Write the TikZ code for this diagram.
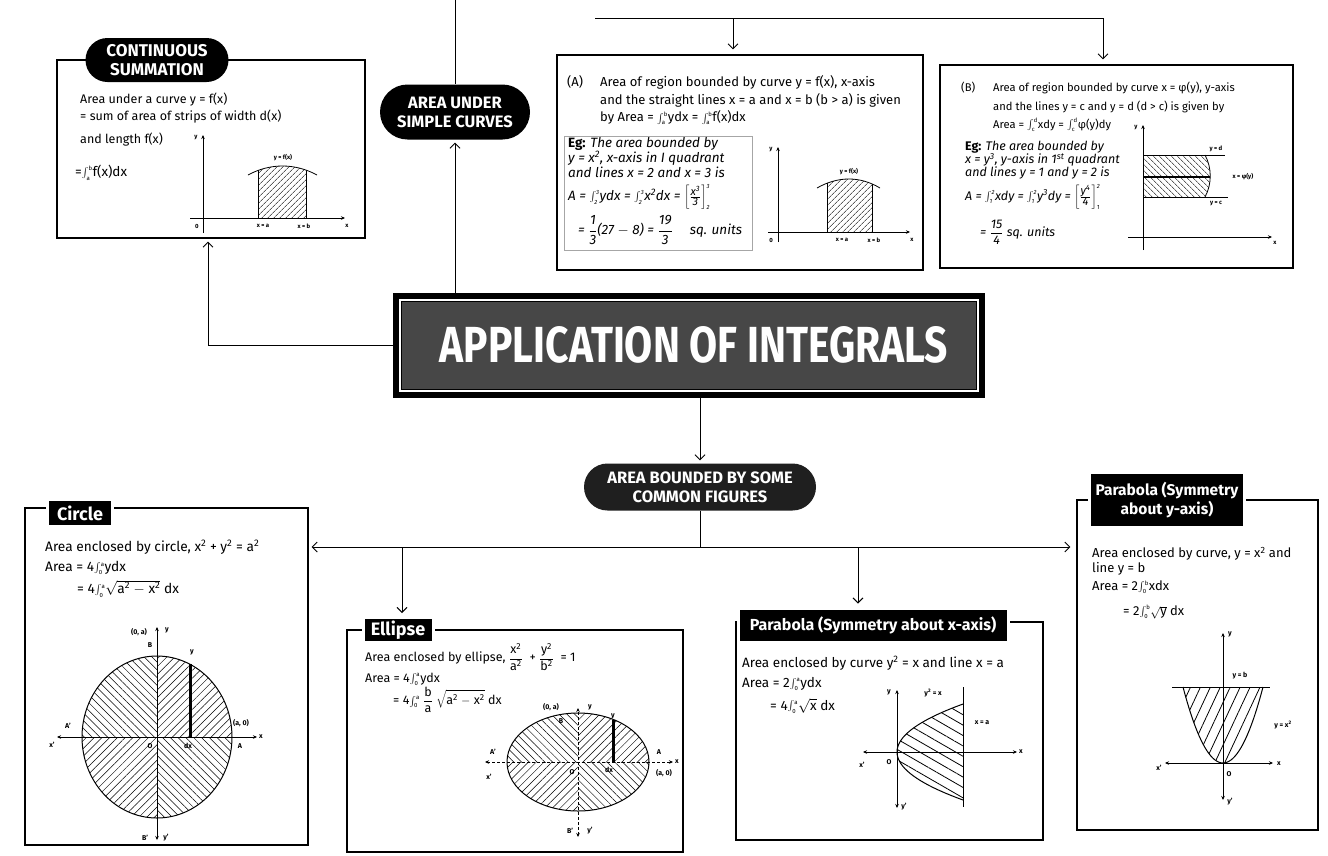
\documentclass[tikz,border=0pt]{standalone}
\usepackage{graphicx}
\usepackage{fontspec}
\setmainfont{Fira Sans}
\usetikzlibrary{arrows.meta,patterns.meta,shapes.misc,calc}
\newcommand{\ig}[2]{\ensuremath{\textstyle\int_{\hbox{\fontsize{6}{6}\selectfont #1}}^{\hbox{\fontsize{6}{6}\selectfont #2}}}}
\newcommand{\sq}[1]{\textsuperscript{#1}}
\newcommand{\mn}{\ensuremath{-}}
\newcommand{\fr}[2]{\ensuremath{\displaystyle\frac{\hbox{#1}}{\hbox{#2}}}}
\newcommand{\rt}[1]{\ensuremath{\sqrt{\hbox{#1}}}}
\newcommand{\bk}[4]{\ensuremath{\left[\frac{\hbox{\fontsize{11}{11}\selectfont #1}}{\hbox{\fontsize{11}{11}\selectfont #2}}\right]_{\hbox{\fontsize{6}{6}\selectfont #3}}^{\hbox{\fontsize{6}{6}\selectfont #4}}}}
\tikzset{
 conn/.style={line width=0.9pt},
 arr/.style={conn, -{Straight Barb[length=5pt,width=10pt,line width=0.9pt]}},
 frame/.style={draw, line width=1.2pt, inner sep=0pt, rectangle},
 pill/.style={rounded rectangle, fill=black, text=white, align=center, inner sep=1pt},
 tag/.style={rectangle, fill=black, text=white, align=center, inner sep=1pt, draw=white, line width=3pt},
 txt/.style={anchor=west, inner sep=0pt, font=\fontsize{12.5}{14}\selectfont},
 small/.style={anchor=west, inner sep=0pt, font=\fontsize{13}{14}\selectfont},
 smallb/.style={anchor=west, inner sep=0pt, font=\fontsize{11.2}{13}\selectfont},
 eg/.style={anchor=west, inner sep=0pt, font=\itshape\fontsize{13.5}{14}\selectfont},
 egb/.style={anchor=west, inner sep=0pt, font=\itshape\fontsize{12.5}{13}\selectfont},
 lab/.style={inner sep=0pt, font=\bfseries\fontsize{6}{7}\selectfont},
 labb/.style={inner sep=0pt, font=\bfseries\fontsize{7}{8}\selectfont},
 ax/.style={line width=0.8pt, -{Stealth[length=4pt,width=3.5pt]}},
 axx/.style={line width=0.8pt, {Stealth[length=4pt,width=3.5pt]}-{Stealth[length=4pt,width=3.5pt]}},
 hatchNE/.style={pattern={Lines[angle=45,distance=4pt,line width=0.5pt]}},
 hatchNW/.style={pattern={Lines[angle=-45,distance=4pt,line width=0.5pt]}},
 chNE/.style={pattern={Lines[angle=45,distance=5.5pt,line width=0.5pt]}},
 chNW/.style={pattern={Lines[angle=-45,distance=5.5pt,line width=0.5pt]}},
}
\begin{document}
\begin{tikzpicture}[x=1pt,y=-1pt]
\useasboundingbox (0,0) rectangle (1328,855);
\fill[white] (0,0) rectangle (1328,855);

% ---------- frames ----------
\node[frame, minimum width=308pt, minimum height=178pt] (cs) at (211,149) {};
\node[frame, minimum width=366pt, minimum height=215pt] (boxA) at (740,162.5) {};
\node[frame, minimum width=353pt, minimum height=203pt] (boxB) at (1116.5,166.5) {};
\node[frame, minimum width=283pt, minimum height=337pt] (circ) at (166.5,676.5) {};
\node[frame, minimum width=336pt, minimum height=222pt] (ell) at (515,741) {};
\node[frame, minimum width=307pt, minimum height=218pt] (parx) at (889.5,731) {};
\node[frame, minimum width=241pt, minimum height=330pt] (pary) at (1197.5,665) {};

% ---------- title ----------
\node[fill=black, minimum width=592pt, minimum height=105pt, inner sep=0pt] (title) at (689,345.5) {};
\fill[black!72] ($(title.south west)+(9,-9)$) rectangle ($(title.north east)+(-9,9)$);
\draw[white, line width=1.5pt] ($(title.south west)+(7,-7)$) rectangle ($(title.north east)+(-7,7)$);
\node[text=white, inner sep=0pt] (titletxt) at (694,345) {\resizebox{508pt}{36pt}{\bfseries APPLICATION OF INTEGRALS}};

% ---------- pills and tags ----------
\node[pill, minimum width=145pt, minimum height=44pt, font=\bfseries\fontsize{17}{19}\selectfont] (cspill) at (157,60) {CONTINUOUS\\SUMMATION};
\node[pill, minimum width=152pt, minimum height=55pt, font=\bfseries\fontsize{16.5}{19}\selectfont] (ausc) at (455,112) {AREA UNDER\\SIMPLE CURVES};
\node[pill, fill=black!88, minimum width=234pt, minimum height=47pt, font=\bfseries\fontsize{16.5}{19}\selectfont] (absc) at (700,487) {AREA BOUNDED BY SOME\\COMMON FIGURES};
\node[tag, minimum width=65pt, minimum height=27pt, font=\bfseries\fontsize{18}{20}\selectfont] (clab) at (80,513) {Circle};
\node[tag, minimum width=70pt, minimum height=25pt, font=\bfseries\fontsize{18}{20}\selectfont] (elab) at (398,630) {Ellipse};
\node[tag, minimum width=270pt, minimum height=34pt, font=\bfseries\fontsize{16}{18}\selectfont] (plab) at (873,625) {Parabola (Symmetry about x-axis)};
\node[tag, minimum width=155pt, minimum height=55pt, font=\bfseries\fontsize{15.5}{19}\selectfont] (qlab) at (1167,500) {Parabola (Symmetry\\about y-axis)};

% ---------- connectors ----------
\coordinate (top0) at (455,0);
\draw[conn] (top0) -- (ausc.north);
\draw[arr, shorten >=3pt] (title.north -| ausc) -- (ausc.south);
\coordinate (h1) at (595,18);
\coordinate (hA) at (733,18);
\coordinate (hB) at (1103,18);
\draw[conn] (h1) -- (hB);
\draw[arr, shorten >=5pt] (hA) -- (hA |- boxA.north);
\draw[arr, shorten >=5pt] (hB) -- (hB |- boxB.north);
\coordinate (j1) at (208,345.5);
\draw[arr, shorten >=3pt] (title.west) -- (j1) -- (j1 |- cs.south);
\draw[arr, shorten >=3pt] (title.south -| absc) -- (absc.north);
\coordinate (bus) at (700,547);
\draw[conn] (absc.south) -- (bus);
\draw[arr, shorten >=3pt] (bus) -- (circ.east |- bus);
\draw[arr, shorten >=6pt] (bus) -- (pary.west |- bus);
\coordinate (bE) at (402,547);
\draw[arr, shorten >=3pt] (bE) -- (bE |- elab.north);
\coordinate (bP) at (858,547);
\draw[arr, shorten >=3pt] (bP) -- (bP |- plab.north);

% ---------- continuous summation ----------
\node[txt] (cs1) at (80,100) {Area under a curve y = f(x)};
\node[txt] (cs2) at (80,117) {= sum of area of strips of width d(x)};
\node[txt] (cs3) at (80,140) {and length f(x)};
\node[txt, font=\fontsize{13.5}{15}\selectfont] (cs4) at (75,173) {=\ig{a}{b}f(x)dx};
\begin{scope}
\clip (248,175) .. controls (270,163) and (295,163) .. (317,175) -- (317,218) -- (248,218) -- cycle;
\fill[hatchNE] (258,150) rectangle (306,218);
\draw[line width=0.8pt] (258,150) -- (258,218) (306,150) -- (306,218);
\end{scope}
\draw[line width=0.8pt] (248,175) .. controls (270,163) and (295,163) .. (317,175);
\draw[ax] (190,218) -- (345,218);
\draw[ax] (203,233) -- (203,135);
\node[lab] (csy) at (196,138) {y};
\node[lab] (cs0) at (197,226) {0};
\node[lab] (csf) at (283,158) {y = f(x)};
\node[lab] (csa) at (263,226) {x = a};
\node[lab] (csb) at (304,226) {x = b};
\node[lab] (csx) at (347,226) {x};

% ---------- box A ----------
\node[small] (a0) at (567,82) {(A)};
\node[small] (a1) at (600,82) {Area of region bounded by curve y = f(x), x-axis};
\node[small] (a2) at (600,100) {and the straight lines x = a and x = b (b > a) is given};
\node[small] (a3) at (600,118) {by Area = \ig{a}{b}ydx = \ig{a}{b}f(x)dx};
\draw[black!35, line width=0.6pt] (564,136) rectangle (752,250);
\node[eg] (a4) at (568,144) {\textbf{\upshape Eg:} The area bounded by};
\node[eg] (a5) at (568,158) {y = x\sq{2}, x-axis in I quadrant};
\node[eg] (a6) at (568,172) {and lines x = 2 and x = 3 is};
\node[eg] (a7) at (568,197) {A = \ig{2}{3}ydx = \ig{2}{3}x\sq{2}dx = \bk{x\sq{3}}{3}{2}{3}};
\node[eg] (a8) at (578,230) {= \fr{1}{3}(27 \mn{} 8) = \fr{19}{3} \quad sq. units};
\begin{scope}
\clip (817,188) .. controls (838,176) and (860,176) .. (880,188) -- (880,232) -- (817,232) -- cycle;
\fill[hatchNE] (827,170) rectangle (872,232);
\draw[line width=0.8pt] (827,170) -- (827,232) (872,170) -- (872,232);
\end{scope}
\draw[line width=0.8pt] (817,188) .. controls (838,176) and (860,176) .. (880,188);
\draw[ax] (768,232) -- (910,232);
\draw[ax] (778,242) -- (778,147);
\node[lab] (ay) at (771,150) {y};
\node[lab] (a0l) at (771,240) {0};
\node[lab] (af) at (849,172) {y = f(x)};
\node[lab] (aa) at (842,240) {x = a};
\node[lab] (ab) at (874,240) {x = b};
\node[lab] (ax) at (912,240) {x};

% ---------- box B ----------
\node[smallb] (b0) at (961,88) {(B)};
\node[smallb] (b1) at (993,88) {Area of region bounded by curve x = φ(y), y-axis};
\node[smallb] (b2) at (993,107) {and the lines y = c and y = d (d > c) is given by};
\node[smallb] (b3) at (993,125) {Area = \ig{c}{d}xdy = \ig{c}{d}φ(y)dy};
\node[egb] (b4) at (965,147) {\textbf{\upshape Eg:} The area bounded by};
\node[egb] (b5) at (965,160) {x = y\sq{3}, y-axis in 1\sq{st} quadrant};
\node[egb] (b6) at (965,173) {and lines y = 1 and y = 2 is};
\node[egb] (b7) at (965,197) {A = \ig{1}{2}xdy = \ig{1}{2}y\sq{3}dy = \bk{y\sq{4}}{4}{1}{2}};
\node[egb] (b8) at (980,232) {= \fr{15}{4} sq. units};
\begin{scope}
\clip (1143,155) -- (1205,155) .. controls (1212,168) and (1212,184) .. (1205,197) -- (1143,197) -- cycle;
\fill[hatchNW] (1143,150) rectangle (1215,200);
\end{scope}
\draw[line width=0.8pt] (1205,155) .. controls (1212,168) and (1212,184) .. (1205,197);
\draw[line width=0.8pt] (1143,155) -- (1225,155) (1143,197) -- (1228,197);
\draw[line width=2.5pt] (1143,177) -- (1210,177);
\draw[ax] (1128,237) -- (1272,237);
\draw[ax] (1143,250) -- (1143,125);
\node[lab] (bd) at (1216,149) {y = d};
\node[lab] (bphi) at (1243,177) {x = φ(y)};
\node[lab] (bc) at (1216,204) {y = c};
\node[lab] (by) at (1136,128) {y};
\node[lab] (bx) at (1275,243) {x};

% ---------- circle ----------
\node[txt, font=\fontsize{13.7}{15}\selectfont] (c1) at (45,547) {Area enclosed by circle, x\sq{2} + y\sq{2} = a\sq{2}};
\node[txt, font=\fontsize{13.7}{15}\selectfont] (c2) at (45,568) {Area = 4\ig{0}{a}ydx};
\node[txt, font=\fontsize{13.7}{15}\selectfont] (c3) at (77,589) {= 4\ig{0}{a}\rt{a\sq{2} \mn{} x\sq{2}} dx};
\begin{scope}
\clip (157,737) ellipse [x radius=75, y radius=81];
\fill[chNE] (157,737) rectangle (240,650);
\fill[chNW] (157,737) rectangle (74,650);
\fill[chNE] (157,737) rectangle (74,825);
\fill[chNW] (157,737) rectangle (240,825);
\end{scope}
\draw[line width=1pt] (157,737) ellipse [x radius=75, y radius=81];
\draw[axx] (57,737) -- (257,737);
\draw[axx] (157,840) -- (157,627);
\draw[line width=3pt] (190,664) -- (190,737);
\node[labb] (c0a) at (139,632) {(0, a)};
\node[labb] (cB) at (150,645) {B};
\node[labb] (cy) at (167,630) {y};
\node[labb] (cy2) at (192,652) {y};
\node[labb] (ca0) at (241,723) {(a, 0)};
\node[labb] (cA) at (240,746) {A};
\node[labb] (cx) at (261,737) {x};
\node[labb] (cA2) at (68,726) {A'};
\node[labb] (cx2) at (52,745) {x'};
\node[labb] (cO) at (150,746) {O};
\node[labb] (cdx) at (188,746) {dx};
\node[labb] (cB2) at (145,838) {B'};
\node[labb] (cy3) at (166,838) {y'};

% ---------- ellipse ----------
\node[txt, font=\fontsize{12.5}{14}\selectfont] (e1) at (365,657) {Area enclosed by ellipse, \fr{x\sq{2}}{a\sq{2}}\; + \fr{y\sq{2}}{b\sq{2}}\; = 1};
\node[txt, font=\fontsize{12.5}{14}\selectfont] (e2) at (365,679) {Area = 4\ig{0}{a}ydx};
\node[txt, font=\fontsize{12.5}{14}\selectfont] (e3) at (393,700) {= 4\ig{0}{a} \fr{b}{a} \rt{a\sq{2} \mn{} x\sq{2}} dx};
\begin{scope}
\clip (578,762) ellipse [x radius=71, y radius=49];
\fill[chNE] (578,762) rectangle (650,710);
\fill[chNW] (578,762) rectangle (505,710);
\fill[chNE] (578,762) rectangle (505,812);
\fill[chNW] (578,762) rectangle (650,812);
\end{scope}
\draw[line width=1pt] (578,762) ellipse [x radius=71, y radius=49];
\draw[axx, densely dashed] (485,762) -- (673,762);
\draw[axx, densely dashed] (578,837) -- (578,708);
\draw[line width=3pt] (613,719.5) -- (613,762);
\node[labb] (e0a) at (551,707) {(0, a)};
\node[labb] (eB) at (561,721) {B};
\node[labb] (ey) at (590,707) {y};
\node[labb] (ey2) at (613,716) {y};
\node[labb] (eA2) at (493,752) {A'};
\node[labb] (ex2) at (489,777) {x'};
\node[labb] (eO) at (572,772) {O};
\node[labb] (edx) at (609,770) {dx};
\node[labb] (eA) at (659,752) {A};
\node[labb] (ex) at (677,762) {x};
\node[labb] (ea0) at (664,773) {(a, 0)};
\node[labb] (eB2) at (570,831) {B'};
\node[labb] (ey3) at (590,831) {y'};

% ---------- parabola x ----------
\node[txt, font=\fontsize{13.5}{15}\selectfont] (p1) at (742,663) {Area enclosed by curve y\sq{2} = x and line x = a};
\node[txt, font=\fontsize{13.5}{15}\selectfont] (p2) at (742,684) {Area = 2\ig{0}{a}ydx};
\node[txt, font=\fontsize{13.5}{15}\selectfont] (p3) at (770,706) {= 4\ig{0}{a}\rt{x} dx};
\begin{scope}
\clip plot[domain=-48:48, samples=41] ({897+66*(\x/48)*(\x/48)},{752+\x}) -- cycle;
\fill[pattern={Lines[angle=-30,distance=9pt,line width=0.8pt]}] (890,700) rectangle (970,805);
\end{scope}
\draw[line width=1pt] plot[domain=-48:48, samples=41] ({897+66*(\x/48)*(\x/48)},{752+\x});
\draw[line width=1pt] (963,687) -- (963,807);
\draw[axx] (863,752) -- (1017,752);
\draw[axx] (897,808) -- (897,690);
\node[labb] (py) at (889,692) {y};
\node[labb] (pyx) at (933,693) {y\sq{2} = x};
\node[labb] (pxa) at (982,723) {x = a};
\node[labb] (px) at (1021,752) {x};
\node[labb] (px2) at (862,765) {x'};
\node[labb] (pO) at (889,762) {O};
\node[labb] (py2) at (904,807) {y'};

% ---------- parabola y ----------
\node[txt, font=\fontsize{13}{14}\selectfont] (q1) at (1092,554) {Area enclosed by curve, y = x\sq{2} and};
\node[txt, font=\fontsize{13}{14}\selectfont] (q2) at (1092,569) {line y = b};
\node[txt, font=\fontsize{13}{14}\selectfont] (q3) at (1092,587) {Area = 2\ig{0}{b}xdx};
\node[txt, font=\fontsize{13}{14}\selectfont] (q4) at (1123,612) {= 2\ig{0}{b}\rt{y} dx};
\begin{scope}
\clip plot[domain=-40:40, samples=41] ({1223+\x},{763-76*(\x/40)*(\x/40)}) -- cycle;
\fill[pattern={Lines[angle=65,distance=9pt,line width=0.8pt]}] (1180,685) rectangle (1266,765);
\end{scope}
\draw[line width=1pt] plot[domain=-40:40, samples=41] ({1223+\x},{763-76*(\x/40)*(\x/40)});
\draw[line width=1pt] (1172,687) -- (1270,687);
\draw[axx] (1165,763) -- (1273,763);
\draw[axx] (1223,800) -- (1223,633);
\node[labb] (qy) at (1230,634) {y};
\node[labb] (qyb) at (1240,676) {y = b};
\node[labb] (qyx) at (1283,725) {y = x\sq{2}};
\node[labb] (qx2) at (1159,768) {x'};
\node[labb] (qO) at (1229,774) {O};
\node[labb] (qx) at (1279,764) {x};
\node[labb] (qy2) at (1230,802) {y'};
\end{tikzpicture}
\end{document}
